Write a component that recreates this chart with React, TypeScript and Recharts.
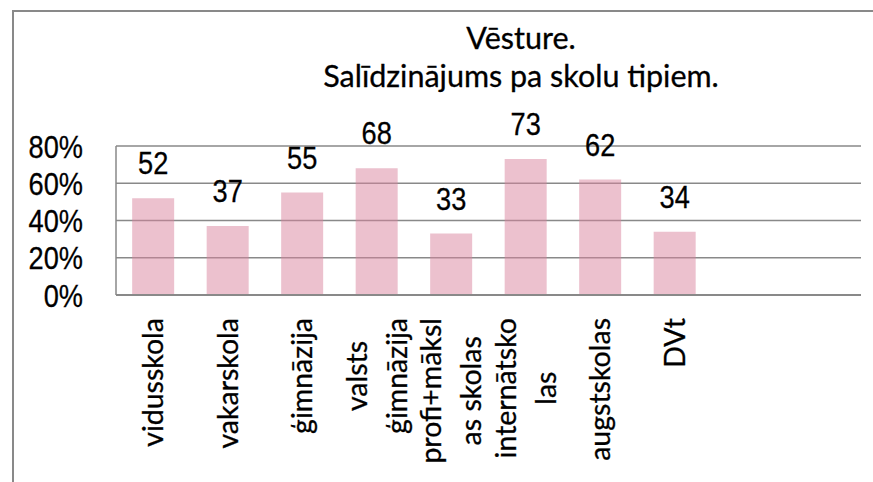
import React from 'react';
import { BarChart, Bar, XAxis, YAxis, CartesianGrid, LabelList } from 'recharts';

const categories = ['vidusskola', 'vakarskola', 'ģimnāzija', 'valsts ģimnāzija', 'profi+mākslas skolas', 'internātskolas', 'augstskolas', 'DVt', '', ''];
const tickLines = [['vidusskola'], ['vakarskola'], ['ģimnāzija'], ['valsts', 'ģimnāzija'], ['profi+māksl', 'as skolas'], ['internātsko', 'las'], ['augstskolas'], ['DVt'], [], []];
const values = [52, 37, 55, 68, 33, 73, 62, 34, null, null];
const yTicks = [0, 20, 40, 60, 80];
const titleLines = ['Vēsture.', 'Salīdzinājums pa skolu tipiem.'];

const data = categories.map((name, i) => ({ name, value: values[i] }));

const textFont = 'Lato, "Noto Sans", sans-serif';
const numFont = '"Liberation Sans", Arial, sans-serif';
const catSize = 28.5;
const grey = '#898989';

let ctx: CanvasRenderingContext2D | null = null;
function measure(s: string) {
  if (!ctx) ctx = document.createElement('canvas').getContext('2d');
  if (!ctx) return s.length * catSize * 0.5;
  ctx.font = `${catSize}px Lato`;
  return ctx.measureText(s).width;
}

// narrow numbers: Liberation Sans squeezed sideways
function NarrowText({ x, y, anchor, children }: any) {
  return (
    <text transform={`translate(${x} ${y}) scale(0.85 1)`} x={0} y={0} textAnchor={anchor}
      fontFamily={numFont} fontSize={32} fill="#000" stroke="#000" strokeWidth={0.3}>
      {children}
    </text>
  );
}

function XTick(props: any) {
  const { x, y, payload } = props;
  const lines = tickLines[payload.index] || [];
  if (!lines.length) return null;
  const top = y + 23;
  const n = lines.length;
  const maxW = Math.max(...lines.map(measure));
  return (
    <g>
      {lines.map((line, i) => {
        const bx = x + 10 + (i - (n - 1) / 2) * 40;
        const ay = n === 1 ? top : top + maxW / 2;
        return (
          <text key={i} x={bx} y={ay} transform={`rotate(-90 ${bx} ${ay})`}
            textAnchor={n === 1 ? 'end' : 'middle'} fontFamily={textFont} fontSize={catSize}
            fill="#000" stroke="#000" strokeWidth={0.3}>
            {line}
          </text>
        );
      })}
    </g>
  );
}

function YTick(props: any) {
  const { y, payload } = props;
  return <NarrowText x={83} y={y + 11.5} anchor="end">{payload.value}%</NarrowText>;
}

function ValueLabel(props: any) {
  const { x, y, width, value } = props;
  if (value == null) return null;
  return <NarrowText x={x + width / 2} y={y - 24} anchor="middle">{value}</NarrowText>;
}

export default function App() {
  return (
    <div style={{ position: 'absolute', left: 0, top: 0, width: 873, height: 482, background: '#fff', overflow: 'hidden' }}>
      <BarChart width={873} height={482} data={data} margin={{ top: 146, right: 12, bottom: 27, left: 0 }} barCategoryGap="21.7%">
        <CartesianGrid vertical={false} stroke={grey} strokeWidth={1.5} />
        <XAxis dataKey="name" interval={0} height={160} tickLine={false} tickSize={0} tickMargin={0}
          axisLine={{ stroke: grey, strokeWidth: 2 }} tick={<XTick />} />
        <YAxis width={116} domain={[0, 80]} ticks={yTicks} tickLine={false} tickSize={0}
          axisLine={{ stroke: grey, strokeWidth: 1.5 }} tick={<YTick />} />
        <Bar dataKey="value" fill="#D9849E" fillOpacity={0.5} isAnimationActive={false}>
          <LabelList dataKey="value" content={<ValueLabel />} />
        </Bar>
      </BarChart>
      <svg width={873} height={482} style={{ position: 'absolute', left: 0, top: 0, pointerEvents: 'none' }}>
        <line x1={13} y1={11} x2={873} y2={11} stroke={grey} strokeWidth={2} />
        <line x1={13} y1={10} x2={13} y2={482} stroke={grey} strokeWidth={2} />
        {titleLines.map((t, i) => (
          <text key={i} x={521} y={49 + i * 38} textAnchor="middle" fontFamily={textFont} fontSize={30.5}
            fill="#000" stroke="#000" strokeWidth={0.3}>
            {t}
          </text>
        ))}
      </svg>
    </div>
  );
}
